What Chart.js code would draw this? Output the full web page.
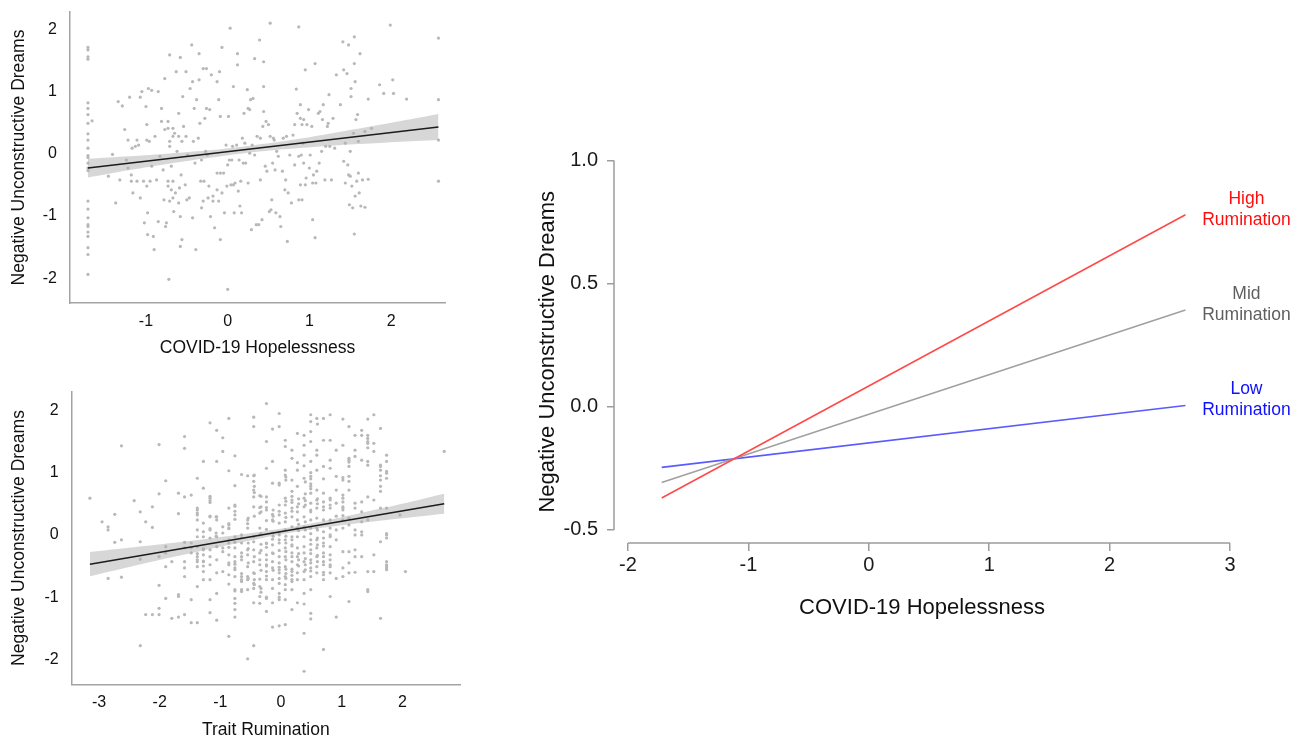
<!DOCTYPE html>
<html>
<head>
<meta charset="utf-8">
<script src="https://cdn.jsdelivr.net/npm/chart.js@4.4.0/dist/chart.umd.min.js"></script>
<style>
  html, body { margin: 0; padding: 0; background: #fff; overflow: hidden; }
  body { width: 1305px; height: 737px; position: relative; }
  canvas { position: absolute; }
</style>
</head>
<body>
<canvas id="hopeChart" width="460" height="370" style="left:0;top:0"></canvas>
<canvas id="rumChart" width="470" height="370" style="left:0;top:375px"></canvas>
<canvas id="modChart" width="775" height="505" style="left:530px;top:130px"></canvas>
<script>
// ---- top-left: COVID-19 hopelessness vs negative unconstructive dreams ----
const hopePts = [
  [-1.71,1.71],[-1.71,1.67],[-1.71,1.56],[-1.71,1.52],[-1.71,0.82],[-1.71,0.73],[-1.71,0.63],[-1.71,0.49],
  [-1.71,0.32],[-1.71,0.22],[-1.71,0.09],[-1.71,-0.03],[-1.71,-0.06],[-1.71,-0.15],[-1.71,-0.23],[-1.71,-0.27],
  [-1.71,-0.76],[-1.71,-0.89],[-1.71,-1.03],[-1.71,-1.14],[-1.71,-1.17],[-1.71,-1.26],[-1.71,-1.33],[-1.71,-1.51],
  [-1.71,-1.62],[-1.71,-1.94],[-1.66,0.53],
  [-1.46,-0.36],[-1.41,-0.01],[-1.37,-0.79],[-1.34,0.84],[-1.32,-0.42],[-1.29,0.77],[-1.26,0.39],[-1.24,-0.10],
  [-1.22,0.22],[-1.22,-0.23],[-1.20,0.91],[-1.18,-0.44],[-1.18,-0.34],[-1.17,0.09],[-1.16,-0.63],[-1.13,0.12],
  [-1.11,0.22],[-1.11,-0.44],[-1.09,0.14],[-1.07,0.91],[-1.07,-0.71],[-1.05,1.00],[-1.03,-0.44],[-1.02,-1.11],
  [-1.00,0.76],[-0.99,0.47],[-0.99,0.22],[-0.99,-0.52],[-0.98,-0.95],[-0.98,-1.30],[-0.97,1.05],[-0.96,0.20],
  [-0.95,-0.44],[-0.93,1.02],[-0.93,-0.20],[-0.91,-1.33],[-0.90,-1.54],[-0.89,0.28],[-0.87,-0.42],[-0.85,1.00],
  [-0.85,-1.09],[-0.83,-0.04],[-0.81,0.73],[-0.81,0.52],[-0.79,-0.26],[-0.78,-0.74],[-0.77,1.21],[-0.77,0.39],
  [-0.76,-1.17],[-0.75,-1.11],[-0.73,0.52],[-0.73,0.41],[-0.73,-0.44],[-0.73,-0.52],[-0.72,-2.02],[-0.71,0.20],
  [-0.71,0.12],[-0.71,1.59],[-0.71,-0.76],[-0.69,-0.58],[-0.69,-0.20],[-0.67,0.28],[-0.67,0.41],[-0.67,-0.44],
  [-0.67,-0.71],[-0.66,-0.93],[-0.65,0.33],[-0.64,-0.63],[-0.63,1.32],[-0.62,0.04],[-0.60,0.65],[-0.60,0.28],
  [-0.60,-0.79],[-0.59,-0.55],[-0.58,-1.49],[-0.58,1.55],[-0.58,-1.01],[-0.57,-0.34],[-0.56,0.20],[-0.56,-1.38],
  [-0.55,0.92],[-0.54,0.44],[-0.52,-0.50],[-0.51,1.32],[-0.51,0.28],[-0.50,-0.74],[-0.49,-0.02],[-0.47,-0.71],
  [-0.46,1.05],[-0.44,1.75],[-0.43,1.16],[-0.43,-1.03],[-0.42,0.20],[-0.41,0.73],[-0.40,-0.15],[-0.39,-1.54],
  [-0.38,0.87],[-0.36,0.25],[-0.35,1.19],[-0.35,1.61],[-0.34,0.49],[-0.33,-0.44],[-0.32,-0.10],[-0.32,-0.87],
  [-0.30,1.37],[-0.30,-0.76],[-0.29,-0.44],[-0.28,0.57],[-0.27,0.04],[-0.26,1.37],[-0.26,0.73],[-0.25,-0.02],
  [-0.24,-0.71],[-0.23,-0.52],[-0.22,0.71],[-0.21,-1.01],[-0.20,1.27],[-0.18,-0.76],[-0.18,-0.68],[-0.16,-1.19],
  [-0.13,1.16],[-0.13,-0.31],[-0.13,-0.58],[-0.11,0.87],[-0.11,-0.76],[-0.10,1.32],[-0.09,0.60],[-0.09,-0.31],
  [-0.09,-1.38],[-0.07,1.71],[-0.07,-0.63],[-0.05,-0.31],[-0.04,-0.95],[-0.02,0.14],[-0.01,-0.52],[0.00,-0.18],
  [0.00,-2.18],[0.01,0.60],[0.02,-0.10],[0.03,2.02],[0.04,-0.50],[0.05,-0.10],[0.06,0.12],[0.07,1.08],
  [0.07,-0.50],[0.08,-0.95],[0.09,-0.47],[0.11,0.14],[0.12,1.61],[0.12,1.43],[0.13,-0.60],[0.14,-0.10],
  [0.15,-0.84],[0.16,-0.44],[0.17,-0.95],[0.18,0.25],[0.19,-0.15],[0.20,0.65],[0.21,0.17],[0.22,-0.15],
  [0.24,1.03],[0.25,0.73],[0.25,-0.47],[0.27,0.01],[0.27,0.71],[0.28,0.87],[0.29,-1.22],[0.30,0.14],
  [0.31,0.89],[0.33,1.53],[0.33,-0.02],[0.35,-1.14],[0.36,0.28],[0.38,-1.14],[0.39,1.83],[0.40,-0.42],
  [0.40,0.25],[0.42,-1.06],[0.43,0.44],[0.44,1.48],[0.44,1.08],[0.44,0.68],[0.46,-0.20],[0.47,0.52],
  [0.48,-0.28],[0.50,0.47],[0.51,-0.93],[0.52,2.10],[0.52,0.28],[0.53,-0.90],[0.54,-0.74],[0.55,-0.15],
  [0.56,0.25],[0.57,0.22],[0.58,-0.26],[0.59,-0.95],[0.60,0.04],[0.62,-0.04],[0.64,-1.01],[0.65,-1.17],
  [0.67,-0.28],[0.68,0.25],[0.70,-0.58],[0.71,-0.42],[0.72,0.28],[0.73,-1.41],[0.74,-0.63],[0.76,-0.02],
  [0.78,-0.79],[0.80,0.30],[0.82,0.47],[0.82,-0.18],[0.84,1.04],[0.85,0.65],[0.87,2.04],[0.87,-0.04],
  [0.87,-0.74],[0.89,0.79],[0.89,0.57],[0.89,-0.50],[0.90,-0.02],[0.91,0.47],[0.91,-0.74],[0.92,0.17],
  [0.93,0.55],[0.93,-0.15],[0.95,1.35],[0.95,-0.50],[0.96,-0.39],[0.97,0.47],[0.99,0.71],[1.00,-0.23],
  [1.01,-0.02],[1.03,0.44],[1.04,-1.06],[1.04,-0.47],[1.05,-0.34],[1.07,1.45],[1.07,-1.35],[1.08,-0.47],
  [1.09,-0.28],[1.11,0.65],[1.12,-0.15],[1.13,0.68],[1.15,0.04],[1.16,0.55],[1.17,0.79],[1.19,-0.42],
  [1.20,0.12],[1.22,0.44],[1.23,0.49],[1.24,0.95],[1.25,0.12],[1.27,-0.42],[1.29,0.57],[1.31,0.09],
  [1.33,1.27],[1.38,0.79],[1.41,1.80],[1.42,1.35],[1.42,-0.12],[1.44,0.17],[1.44,-0.47],[1.46,1.29],
  [1.47,-0.18],[1.48,1.75],[1.48,-0.34],[1.49,-0.82],[1.50,0.04],[1.50,-0.36],[1.51,1.05],[1.51,0.92],
  [1.52,-0.52],[1.53,-0.87],[1.54,0.33],[1.55,1.88],[1.55,1.45],[1.55,-1.29],[1.56,1.16],[1.56,-0.68],
  [1.57,0.55],[1.58,-0.44],[1.59,0.63],[1.60,-0.31],[1.60,0.20],[1.61,-0.63],[1.62,1.61],[1.63,-0.84],
  [1.65,-0.42],[1.68,0.36],[1.68,-0.86],[1.72,0.88],[1.72,-0.41],[1.76,0.41],[1.86,1.11],[1.91,0.97],
  [1.99,2.07],[2.02,1.19],[2.03,0.97],[2.19,0.88],[2.58,1.86],[2.58,0.87],[2.58,0.22],[2.58,-0.44]
];
const hopeLineX = [-1.71, 2.58];
const hopeLineY = [-0.23, 0.43];
const hopeBandX  = [-1.71, -1.2, -0.7, -0.2, 0.3, 0.8, 1.3, 1.8, 2.3, 2.58];
const hopeBandHi = [-0.08, -0.04, 0.005, 0.06, 0.135, 0.225, 0.335, 0.45, 0.57, 0.64];
const hopeBandLo = [-0.38, -0.26, -0.155, -0.06, 0.025, 0.085, 0.135, 0.17, 0.205, 0.22];
const hopeXTicks = [-1, 0, 1, 2];
const hopeYTicks = [-2, -1, 0, 1, 2];

// ---- bottom-left: trait rumination vs negative unconstructive dreams ----
const rumPts = [
  [-3.15,0.59],[-2.95,0.21],[-2.85,0.13],[-2.85,0.08],[-2.85,-0.70],[-2.74,0.33],[-2.74,-0.12],[-2.63,1.43],
  [-2.63,-0.08],[-2.63,-0.68],[-2.42,0.55],[-2.32,0.37],[-2.32,-0.11],[-2.32,-0.39],[-2.32,-1.78],[-2.23,0.21],
  [-2.23,-1.28],[-2.12,0.45],[-2.12,0.12],[-2.12,-1.28],[-2.01,1.45],[-2.01,0.66],[-2.01,-0.35],[-2.01,-0.81],
  [-2.01,-1.18],[-2.01,-1.28],[-1.90,0.87],[-1.90,-0.19],[-1.90,-0.29],[-1.90,-0.51],[-1.90,-1.02],[-1.80,-0.43],
  [-1.80,-1.34],[-1.69,0.67],[-1.69,0.34],[-1.69,-0.96],[-1.69,-0.99],[-1.69,-1.32],[-1.59,1.58],[-1.59,1.39],
  [-1.59,0.61],[-1.59,-0.12],[-1.59,-0.21],[-1.59,-0.43],[-1.59,-0.53],[-1.59,-0.67],[-1.59,-1.28],[-1.48,0.64],
  [-1.48,-0.13],[-1.48,-0.21],[-1.48,-0.29],[-1.48,-1.04],[-1.48,-1.41],
  [-1.38,0.91],[-1.38,0.43],[-1.38,0.35],[-1.38,0.24],[-1.38,-0.03],[-1.38,-0.19],[-1.38,-0.35],[-1.38,-0.43],
  [-1.38,-0.51],[-1.38,-0.83],[-1.38,-1.41],[-1.38,0.40],[-1.38,0.32],[-1.38,0.08],[-1.38,-0.30],[-1.38,-0.40],
  [-1.28,1.18],[-1.28,0.75],[-1.28,0.19],[-1.28,0.05],[-1.28,-0.03],[-1.28,-0.24],[-1.28,-0.43],[-1.28,-0.59],[-1.28,-0.72],
  [-1.28,-0.22],[-1.28,-0.32],[-1.28,-0.42],[-1.28,-0.50],
  [-1.17,1.80],[-1.17,0.59],[-1.17,0.52],[-1.17,0.30],[-1.17,0.08],[-1.17,-0.05],[-1.17,-0.24],[-1.17,-0.35],
  [-1.17,-0.48],[-1.17,-0.72],[-1.17,-1.04],[-1.17,-1.25],[-1.17,0.62],[-1.17,0.55],[-1.17,0.29],[-1.17,0.10],
  [-1.06,1.68],[-1.06,1.18],[-1.06,0.29],[-1.06,0.24],[-1.06,-0.03],[-1.06,-0.19],[-1.06,-0.40],[-1.06,-0.61],
  [-1.06,-0.94],[-1.06,-1.37],[-1.07,0.29],[-1.07,0.03],[-1.07,-0.02],
  [-0.96,1.56],[-0.96,1.34],[-0.96,0.13],[-0.96,0.03],[-0.96,-0.21],[-0.96,-0.27],[-0.96,-0.59],
  [-0.86,1.87],[-0.86,1.03],[-0.86,0.43],[-0.86,0.16],[-0.86,0.11],[-0.86,-0.13],[-0.86,-0.32],[-0.86,-0.48],
  [-0.86,-0.64],[-0.86,-0.79],[-0.86,-1.63],[-0.86,0.18],[-0.86,0.10],[-0.86,-0.08],[-0.86,-0.20],[-0.86,-0.45],
  [-0.76,1.27],[-0.76,0.79],[-0.76,0.48],[-0.76,0.32],[-0.76,0.25],[-0.76,-0.03],[-0.76,-0.21],[-0.76,-0.35],
  [-0.76,-0.43],[-0.76,-0.53],[-0.76,-0.67],[-0.76,-0.88],[-0.76,-1.02],[-0.76,-1.20],[-0.76,-1.32],
  [-0.76,0.46],[-0.76,0.38],[-0.76,-0.12],[-0.76,-0.47],[-0.76,-0.56],[-0.76,-0.90],[-0.76,-1.10],
  [-0.65,0.97],[-0.65,-0.05],[-0.65,-0.13],[-0.65,-0.29],[-0.65,-0.40],[-0.65,-0.67],[-0.65,-0.75],[-0.65,-0.91],
  [-0.65,0.00],[-0.65,-0.35],[-0.65,-0.62],[-0.65,-0.72],[-0.65,-0.88],
  [-0.55,0.95],[-0.55,0.24],[-0.55,0.18],[-0.55,0.11],[-0.55,-0.24],[-0.55,-0.32],[-0.55,-0.51],[-0.55,-0.67],
  [-0.55,-0.72],[-0.55,-0.88],[-0.55,-1.99],[-0.54,0.27],[-0.54,-0.13],[-0.54,-0.22],[-0.54,-0.45],[-0.54,-0.70],
  [-0.45,1.89],[-0.45,1.74],[-0.45,0.95],[-0.45,0.86],[-0.45,0.72],[-0.45,0.61],[-0.45,0.45],[-0.45,-0.03],
  [-0.45,-0.11],[-0.45,-0.24],[-0.45,-0.43],[-0.45,-0.61],[-0.45,-0.78],[-0.45,-0.86],[-0.45,-1.09],[-0.45,-1.78],
  [-0.44,0.96],[-0.44,0.78],[-0.44,0.68],[-0.44,0.30],[-0.44,-0.35],[-0.44,-0.62],[-0.44,-0.72],[-0.44,-0.80],
  [-0.35,0.63],[-0.35,0.44],[-0.35,0.35],[-0.35,0.11],[-0.35,0.00],[-0.35,-0.29],[-0.35,-0.40],[-0.35,-0.48],
  [-0.35,-0.71],[-0.35,-0.83],[-0.35,-0.99],[-0.35,-1.10],
  [-0.33,0.62],[-0.33,0.45],[-0.33,0.37],[-0.33,0.02],[-0.33,-0.15],[-0.33,-0.25],[-0.33,-0.57],[-0.33,-0.86],[-0.33,-0.92],
  [-0.24,2.11],[-0.24,1.50],[-0.24,1.07],[-0.24,0.61],[-0.24,0.53],[-0.24,0.44],[-0.24,0.23],[-0.24,0.09],
  [-0.24,-0.13],[-0.24,-0.32],[-0.24,-0.48],[-0.24,-0.59],[-0.24,-0.72],[-0.24,-1.02],[-0.24,-1.23],
  [-0.24,0.40],[-0.24,-0.14],[-0.24,-0.20],[-0.24,-0.40],[-0.24,-0.50],[-0.24,-0.66],[-0.24,-1.00],
  [-0.14,1.70],[-0.14,1.18],[-0.14,0.83],[-0.14,0.33],[-0.14,0.24],[-0.14,0.03],[-0.14,-0.07],[-0.14,-0.16],
  [-0.14,-0.29],[-0.14,-0.43],[-0.14,-0.53],[-0.14,-0.72],[-0.14,-0.86],[-0.14,-1.09],[-0.14,-1.48],
  [-0.13,0.40],[-0.13,0.30],[-0.13,0.22],[-0.13,-0.02],[-0.13,-0.30],[-0.13,-0.57],
  [-0.03,1.95],[-0.03,1.74],[-0.03,0.83],[-0.03,0.32],[-0.03,0.19],[-0.03,0.00],[-0.03,-0.13],[-0.03,-0.35],
  [-0.03,-0.45],[-0.03,-0.61],[-0.03,-0.78],[-0.03,-0.94],[-0.03,-1.04],[-0.03,-1.46],
  [-0.03,0.80],[-0.03,0.48],[-0.03,0.38],[-0.03,0.04],[-0.03,-0.08],[-0.03,-0.25],[-0.03,-0.52],[-0.03,-0.56],
  [-0.03,-0.70],[-0.03,-1.00],
  [0.07,1.52],[0.07,1.42],[0.07,1.04],[0.07,0.96],[0.07,0.59],[0.07,0.48],[0.07,0.35],[0.07,0.21],[0.07,0.08],
  [0.07,-0.08],[0.07,-0.21],[0.07,-0.35],[0.07,-0.51],[0.07,-0.67],[0.07,-0.80],[0.07,-0.88],[0.07,-1.04],[0.07,-1.44],
  [0.08,0.93],[0.08,0.88],[0.08,0.54],[0.08,0.28],[0.08,-0.02],[0.08,-0.13],[0.08,-0.27],[0.08,-0.40],[0.08,-0.55],
  [0.08,-0.62],[0.08,-0.70],
  [0.18,1.36],[0.18,1.23],[0.18,0.88],[0.18,0.70],[0.18,0.56],[0.18,0.43],[0.18,0.29],[0.18,0.13],[0.18,-0.03],
  [0.18,-0.16],[0.18,-0.29],[0.18,-0.43],[0.18,-0.59],[0.18,-0.72],[0.18,-0.88],[0.18,-1.20],
  [0.18,0.62],[0.18,0.52],[0.18,0.38],[0.18,-0.08],[0.18,-0.18],[0.18,-0.35],[0.18,-0.55],[0.18,-0.65],[0.18,-0.75],
  [0.27,1.63],[0.27,1.16],[0.27,1.04],[0.27,0.78],[0.27,0.45],[0.27,0.37],[0.27,0.24],[0.27,0.11],[0.27,-0.03],
  [0.27,-0.21],[0.27,-0.35],[0.27,-0.48],[0.27,-0.61],[0.27,-0.72],[0.27,-1.09],
  [0.29,0.58],[0.29,0.50],[0.29,0.17],[0.29,0.07],[0.29,-0.30],[0.29,-0.40],[0.29,-0.50],
  [0.38,1.60],[0.38,1.44],[0.38,1.28],[0.38,1.11],[0.38,0.91],[0.38,0.59],[0.38,0.45],[0.38,0.29],[0.38,0.13],
  [0.38,-0.03],[0.38,-0.19],[0.38,-0.29],[0.38,-0.43],[0.38,-0.59],[0.38,-0.72],[0.38,-0.94],[0.38,-1.11],
  [0.38,-1.58],[0.38,-2.19],
  [0.40,0.85],[0.40,0.66],[0.40,0.55],[0.40,0.48],[0.40,0.21],[0.40,0.08],[0.40,-0.38],[0.40,-0.48],[0.40,-0.56],
  [0.49,1.93],[0.49,1.82],[0.49,1.66],[0.49,1.50],[0.49,1.18],[0.49,0.94],[0.49,0.78],[0.49,0.67],[0.49,0.51],
  [0.49,0.37],[0.49,0.24],[0.49,0.11],[0.49,-0.08],[0.49,-0.24],[0.49,-0.40],[0.49,-0.53],[0.49,-0.67],
  [0.49,-0.88],[0.49,-1.26],[0.49,-1.35],
  [0.49,1.00],[0.49,0.90],[0.49,0.82],[0.49,0.74],[0.49,0.40],[0.49,0.02],[0.49,-0.15],[0.49,-0.30],[0.49,-0.45],[0.49,-0.58],
  [0.59,1.87],[0.59,1.36],[0.59,1.28],[0.59,1.04],[0.59,0.72],[0.59,0.56],[0.59,0.43],[0.59,0.27],[0.59,0.11],
  [0.59,-0.08],[0.59,-0.21],[0.59,-0.35],[0.59,-0.51],[0.59,-0.61],
  [0.60,1.78],[0.60,0.58],[0.60,0.50],[0.60,0.08],[0.60,-0.05],[0.60,-0.16],[0.60,-0.33],[0.60,-0.43],
  [0.70,1.87],[0.70,1.52],[0.70,1.10],[0.70,0.67],[0.70,0.53],[0.70,0.40],[0.70,0.24],[0.70,0.05],[0.70,-0.13],
  [0.70,-0.29],[0.70,-0.43],[0.70,-0.64],[0.70,-0.72],[0.70,-1.84],
  [0.70,0.90],[0.70,0.45],[0.70,-0.05],[0.70,-0.18],[0.70,-0.35],[0.70,-0.48],[0.70,-0.60],
  [0.81,1.93],[0.81,1.52],[0.81,1.20],[0.81,1.07],[0.81,0.59],[0.81,0.43],[0.81,0.24],[0.81,0.11],[0.81,0.00],
  [0.81,-0.19],[0.81,-0.32],[0.81,-0.51],[0.81,-0.61],[0.81,-0.99],
  [0.81,0.56],[0.81,0.48],[0.81,-0.03],[0.81,-0.40],[0.81,-0.48],
  [0.91,1.36],[0.91,0.94],[0.91,0.72],[0.91,0.51],[0.91,0.30],[0.91,0.08],[0.91,-0.08],[0.91,-0.70],[0.91,-1.32],
  [1.02,1.86],[1.02,1.44],[1.02,0.88],[1.02,0.64],[1.02,0.59],[1.02,0.45],[1.02,0.40],[1.02,0.24],[1.02,0.11],
  [1.02,-0.27],[1.02,-0.53],[1.02,-0.67],[1.02,0.92],[1.02,0.53],[1.02,0.43],[1.02,0.31],
  [1.12,1.74],[1.12,1.20],[1.12,1.10],[1.12,0.94],[1.12,0.72],[1.12,0.27],[1.12,0.16],[1.12,-0.27],[1.12,-0.45],
  [1.12,-0.61],[1.12,-1.07],[1.12,1.23],[1.12,1.17],[1.12,0.86],
  [1.22,1.60],[1.22,1.36],[1.22,1.26],[1.22,0.51],[1.22,0.43],[1.22,0.08],[1.22,0.00],[1.22,-0.24],[1.22,-0.35],[1.22,-0.60],
  [1.33,1.68],[1.33,1.60],[1.33,1.20],[1.33,0.53],[1.33,0.37],[1.33,0.21],[1.33,0.05],[1.33,0.00],[1.33,-0.35],
  [1.43,1.86],[1.43,1.60],[1.43,1.50],[1.43,1.18],[1.43,1.12],[1.43,0.61],[1.43,0.24],[1.43,-0.59],[1.43,-0.88],[1.43,-0.91],
  [1.43,1.55],[1.43,1.47],[1.43,1.40],
  [1.53,1.93],[1.53,1.47],[1.53,1.34],[1.53,0.56],[1.53,-0.32],[1.53,-0.59],
  [1.64,1.71],[1.64,1.12],[1.64,1.04],[1.64,0.88],[1.64,0.78],[1.64,0.43],[1.64,-0.11],[1.64,-1.34],
  [1.64,1.10],[1.64,0.95],[1.64,0.70],
  [1.74,1.28],[1.74,1.18],[1.74,0.99],[1.74,0.91],[1.74,0.43],[1.74,0.00],[1.74,-0.05],[1.74,-0.43],[1.74,-0.48],[1.74,-0.56],
  [1.74,1.02],[1.74,0.02],[1.74,-0.50],[1.74,-0.53],
  [1.96,0.32],[2.05,-0.59],[2.69,1.34]
];
const rumLineX = [-3.15, 2.69];
const rumLineY = [-0.47, 0.50];
const rumBandX  = [-3.15, -2.5, -1.8, -1.1, -0.4, 0.3, 1.0, 1.7, 2.3, 2.69];
const rumBandHi = [-0.275, -0.207, -0.131, -0.05, 0.041, 0.147, 0.283, 0.434, 0.569, 0.66];
const rumBandLo = [-0.665, -0.517, -0.361, -0.21, -0.069, 0.057, 0.153, 0.234, 0.299, 0.34];
const rumXTicks = [-3, -2, -1, 0, 1, 2];
const rumYTicks = [-2, -1, 0, 1, 2];

// ---- right: simple slopes at low / mid / high rumination ----
const modLevels = ['High', 'Mid', 'Low'];
const modX = [-1.72, 2.63];
const modHigh = [-0.37, 0.78];
const modMid = [-0.307, 0.393];
const modLow = [-0.246, 0.005];
const modXTicks = [-2, -1, 0, 1, 2, 3];
const modYTicks = [-0.5, 0, 0.5, 1.0];

const FONT = "'Liberation Sans', Arial, Helvetica, sans-serif";
Chart.defaults.font.family = FONT;
Chart.defaults.color = '#111';
Chart.defaults.animation = false;

const toXY = (xs, ys) => xs.map((x, i) => ({x: x, y: ys[i]}));

// drop the label overhang chart.js adds, so the plot area sits where the layout says
function fixX(h) {
  return s => { s.height = h; s.paddingLeft = 0; s.paddingRight = 0; };
}
function fixY(w) {
  return s => { s.width = w; s.paddingTop = 0; s.paddingBottom = 0; };
}

function makeScatter(id, o) {
  return new Chart(document.getElementById(id), {
    type: 'scatter',
    data: {
      datasets: [
        {
          type: 'line', data: toXY(o.lineX, o.lineY), order: 0,
          borderColor: '#1c1c1c', borderWidth: 1.5, pointRadius: 0, fill: false
        },
        {
          type: 'line', data: toXY(o.bandX, o.bandHi), order: 1,
          borderWidth: 0, pointRadius: 0, tension: 0.3,
          fill: '+1', backgroundColor: 'rgba(175,175,175,0.5)'
        },
        {
          type: 'line', data: toXY(o.bandX, o.bandLo), order: 1,
          borderWidth: 0, pointRadius: 0, tension: 0.3, fill: false
        },
        {
          data: o.pts.map(p => ({x: p[0], y: p[1]})), order: 2,
          pointRadius: 1.6, backgroundColor: '#b8b8b8', borderWidth: 0
        }
      ]
    },
    options: {
      responsive: false,
      layout: { padding: o.pad },
      plugins: { legend: { display: false }, tooltip: { enabled: false } },
      scales: {
        x: {
          type: 'linear', min: o.xMin, max: o.xMax,
          afterBuildTicks: s => { s.ticks = o.xTicks.map(v => ({value: v})); },
          afterFit: fixX(o.xH),
          grid: { display: false, drawTicks: false },
          border: { display: true, color: '#a3a3a3', width: 1.5 },
          ticks: { autoSkip: false, maxRotation: 0, padding: 9, font: { size: 16 }, color: '#111' },
          title: { display: true, text: o.xTitle, font: { size: 17.5 }, color: '#111',
                   padding: { top: 0, bottom: o.xTitlePad } }
        },
        y: {
          type: 'linear', min: o.yMin, max: o.yMax,
          afterBuildTicks: s => { s.ticks = o.yTicks.map(v => ({value: v})); },
          afterFit: fixY(o.yW),
          grid: { display: false, drawTicks: false },
          border: { display: true, color: '#a3a3a3', width: 1.5 },
          ticks: { autoSkip: false, padding: 13, font: { size: 16 }, color: '#111' },
          title: { display: true, text: 'Negative Unconstructive Dreams', font: { size: 17.5 }, color: '#111',
                   padding: { top: 9, bottom: 0 } }
        }
      }
    }
  });
}

makeScatter('hopeChart', {
  pts: hopePts, lineX: hopeLineX, lineY: hopeLineY,
  bandX: hopeBandX, bandHi: hopeBandHi, bandLo: hopeBandLo,
  xTicks: hopeXTicks, yTicks: hopeYTicks,
  xMin: -1.93, xMax: 2.66, yMin: -2.40, yMax: 2.28,
  xTitle: 'COVID-19 Hopelessness', xTitlePad: 11,
  pad: { top: 12, right: 15, left: 0, bottom: 0 }, yW: 70, xH: 67
});

makeScatter('rumChart', {
  pts: rumPts, lineX: rumLineX, lineY: rumLineY,
  bandX: rumBandX, bandHi: rumBandHi, bandLo: rumBandLo,
  xTicks: rumXTicks, yTicks: rumYTicks,
  xMin: -3.45, xMax: 2.95, yMin: -2.40, yMax: 2.30,
  xTitle: 'Trait Rumination', xTitlePad: 4.5,
  pad: { top: 16.7, right: 10, left: 0, bottom: 0 }, yW: 71.7, xH: 60.7
});

// R-style detached axis lines, spanning first to last tick only
const axisLines = {
  id: 'axisLines',
  afterDraw(chart) {
    const {ctx, chartArea, scales: {x, y}} = chart;
    ctx.save();
    ctx.strokeStyle = '#9c9c9c';
    ctx.lineWidth = 1.5;
    ctx.beginPath();
    ctx.moveTo(chartArea.left, y.getPixelForValue(modYTicks[0]));
    ctx.lineTo(chartArea.left, y.getPixelForValue(modYTicks[modYTicks.length - 1]));
    ctx.moveTo(x.getPixelForValue(modXTicks[0]), chartArea.bottom);
    ctx.lineTo(x.getPixelForValue(modXTicks[modXTicks.length - 1]), chartArea.bottom);
    ctx.stroke();
    ctx.restore();
  }
};

const modTextColors = ['#ff0d0d', '#5f5f5f', '#1010ff'];
const endLabels = {
  id: 'endLabels',
  afterDatasetsDraw(chart) {
    const ctx = chart.ctx;
    ctx.save();
    ctx.font = '17.5px ' + FONT;
    ctx.textAlign = 'center';
    ctx.textBaseline = 'middle';
    chart.data.datasets.forEach((ds, i) => {
      const pts = chart.getDatasetMeta(i).data;
      const end = pts[pts.length - 1];
      ctx.fillStyle = modTextColors[i];
      ctx.fillText(modLevels[i], end.x + 61, end.y - 16);
      ctx.fillText('Rumination', end.x + 61, end.y + 5);
    });
    ctx.restore();
  }
};

new Chart(document.getElementById('modChart'), {
  type: 'scatter',
  data: {
    datasets: [
      { label: 'High Rumination', data: toXY(modX, modHigh), showLine: true,
        borderColor: '#ff4a4a', borderWidth: 1.6, pointRadius: 0 },
      { label: 'Mid Rumination', data: toXY(modX, modMid), showLine: true,
        borderColor: '#a0a0a0', borderWidth: 1.6, pointRadius: 0 },
      { label: 'Low Rumination', data: toXY(modX, modLow), showLine: true,
        borderColor: '#5a5aff', borderWidth: 1.6, pointRadius: 0 }
    ]
  },
  options: {
    responsive: false,
    layout: { padding: { top: 30.5, right: 75, left: 0, bottom: 0 } },
    plugins: { legend: { display: false }, tooltip: { enabled: false } },
    scales: {
      x: {
        type: 'linear', min: -2.116, max: 3,
        afterBuildTicks: s => { s.ticks = modXTicks.map(v => ({value: v})); },
        afterFit: fixX(92),
        border: { display: false },
        grid: { drawOnChartArea: false, drawTicks: true, tickLength: 8, color: '#9c9c9c', lineWidth: 1.5 },
        ticks: { autoSkip: false, maxRotation: 0, padding: 2, font: { size: 20 }, color: '#1a1a1a' },
        title: { display: true, text: 'COVID-19 Hopelessness', font: { size: 22 }, color: '#111',
                 padding: { top: 0, bottom: 14 } }
      },
      y: {
        type: 'linear', min: -0.553, max: 1.0,
        afterBuildTicks: s => { s.ticks = modYTicks.map(v => ({value: v})); },
        afterFit: fixY(84),
        border: { display: false },
        grid: { drawOnChartArea: false, drawTicks: true, tickLength: 7, color: '#9c9c9c', lineWidth: 1.5 },
        ticks: { autoSkip: false, padding: 9, font: { size: 20 }, color: '#1a1a1a',
                 callback: v => v.toFixed(1) },
        title: { display: true, text: 'Negative Unconstructive Dreams', font: { size: 22 }, color: '#111',
                 padding: { top: 5, bottom: 0 } }
      }
    }
  },
  plugins: [axisLines, endLabels]
});
</script>
</body>
</html>
